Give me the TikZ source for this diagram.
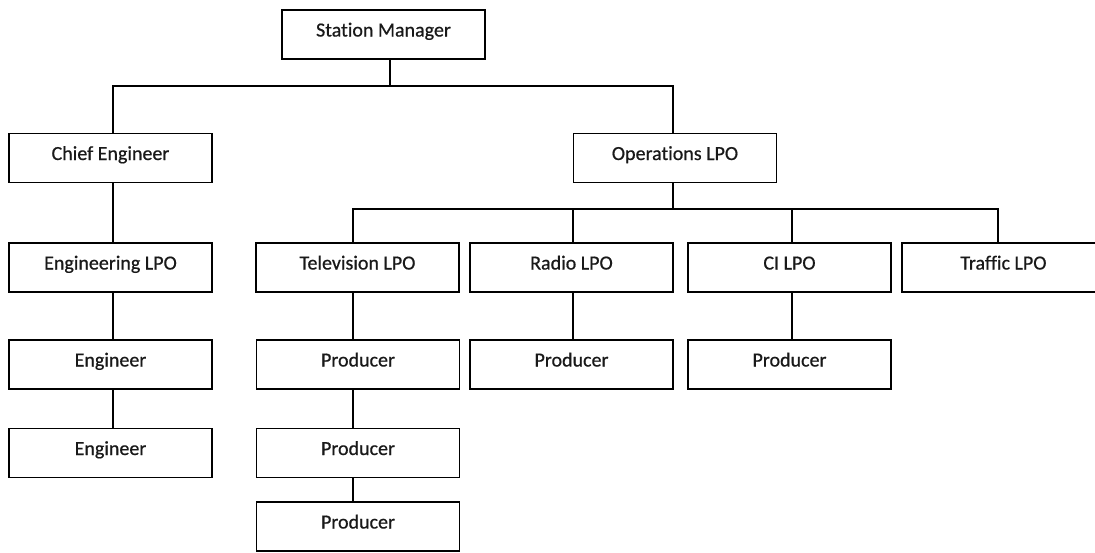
\documentclass[tikz,border=0pt]{standalone}
\usepackage{fontspec}
\setmainfont{Carlito}
\newfontfamily\boxfont{Carlito}[FakeBold=0.6, Ligatures=NoCommon]
\begin{document}
\begin{tikzpicture}[x=1pt,y=-1pt,
  orgbox/.style={draw=black, line width=1.7pt, minimum width=203pt, minimum height=49pt,
    inner sep=0pt, text height=12pt, text depth=8pt,
    font=\boxfont\fontsize{20pt}{24pt}\selectfont, text=black!90},
  link/.style={draw=black, line width=1.7pt}]
\clip (0,0) rectangle (1095,552);
\fill[white] (0,0) rectangle (1095,552);
% nodes
\node[orgbox] (sm)   at (383.5,34.5) {Station Manager};
\node[orgbox] (ce)   at (110.5,158)  {Chief Engineer};
\node[orgbox] (ops)  at (675,158)    {Operations LPO};
\node[orgbox] (elpo) at (110.5,267.5) {Engineering LPO};
\node[orgbox] (tv)   at (357.5,267.5) {Television LPO};
\node[orgbox] (ra)   at (571.5,267.5) {Radio LPO};
\node[orgbox] (ci)   at (789.5,267.5) {CI LPO};
\node[orgbox] (tr)   at (1003.5,267.5) {Traffic LPO};
\node[orgbox] (e1)   at (110.5,364.5) {Engineer};
\node[orgbox] (e2)   at (110.5,453)   {Engineer};
\node[orgbox] (p1)   at (358,364.5)   {Producer};
\node[orgbox] (p2)   at (358,453)     {Producer};
\node[orgbox] (p3)   at (358,526.5)   {Producer};
\node[orgbox] (pr)   at (571.5,364.5) {Producer};
\node[orgbox] (pc)   at (789.5,364.5) {Producer};
% helper coordinates
\coordinate (h1) at (0,86);
\coordinate (h2) at (0,209);
\coordinate (xsm) at (390,0);
\coordinate (xce) at (113,0);
\coordinate (xops) at (673,0);
\coordinate (xtv) at (353,0);
\coordinate (xra) at (573,0);
\coordinate (xci) at (792,0);
\coordinate (xtr) at (998,0);
% connectors
\draw[link] (sm.south -| xsm) -- (h1 -| xsm);
\draw[link] (ce.north -| xce) -- (h1 -| xce) -- (h1 -| xops) -- (ops.north -| xops);
\draw[link] (ops.south -| xops) -- (h2 -| xops);
\draw[link] (tv.north -| xtv) -- (h2 -| xtv) -- (h2 -| xtr) -- (tr.north -| xtr);
\draw[link] (ra.north -| xra) -- (h2 -| xra);
\draw[link] (ci.north -| xci) -- (h2 -| xci);
\draw[link] (ce.south -| xce) -- (elpo.north -| xce);
\draw[link] (elpo.south -| xce) -- (e1.north -| xce);
\draw[link] (e1.south -| xce) -- (e2.north -| xce);
\draw[link] (tv.south -| xtv) -- (p1.north -| xtv);
\draw[link] (p1.south -| xtv) -- (p2.north -| xtv);
\draw[link] (p2.south -| xtv) -- (p3.north -| xtv);
\draw[link] (ra.south -| xra) -- (pr.north -| xra);
\draw[link] (ci.south -| xci) -- (pc.north -| xci);
\end{tikzpicture}
\end{document}
